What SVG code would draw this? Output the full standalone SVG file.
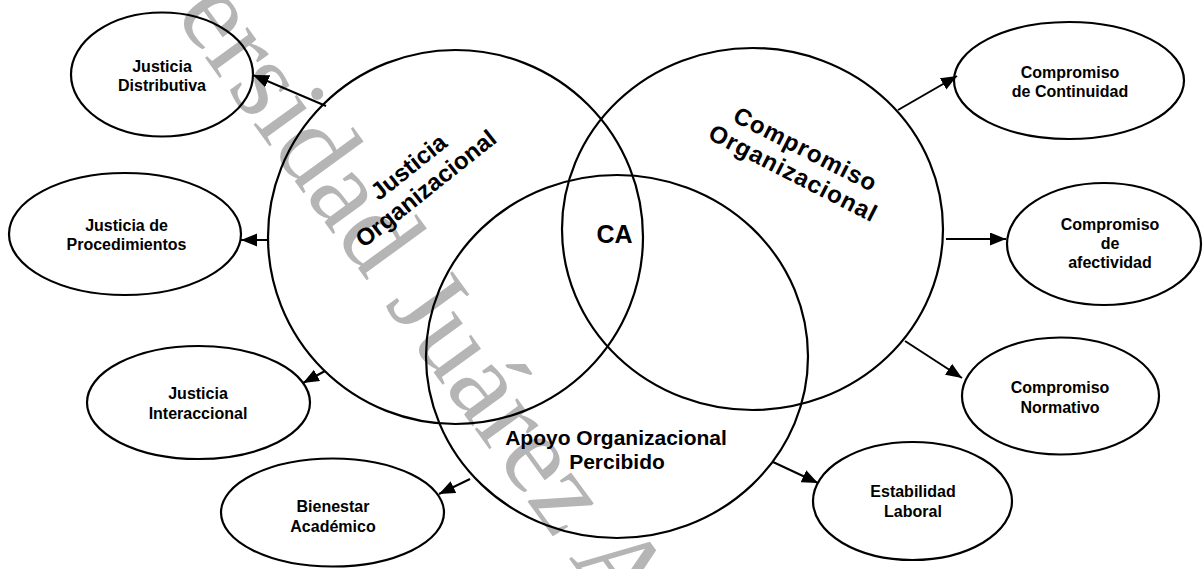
<svg xmlns="http://www.w3.org/2000/svg" width="1203" height="569" viewBox="0 0 1203 569">
<style>
.shape{fill:none;stroke:#000;stroke-width:2.2}
.sat{font-family:"Liberation Sans",Arial,sans-serif;font-weight:bold;font-size:16px;fill:#000;text-anchor:middle}
.big{font-family:"Liberation Sans",Arial,sans-serif;font-weight:bold;fill:#000;text-anchor:middle}
.conn line{stroke:#000;stroke-width:2;marker-end:url(#ah)}
.wm{font-family:"Liberation Serif","Times New Roman",serif;font-size:114px;fill:#b5b5b5}
</style>
<defs>
<marker id="ah" markerUnits="userSpaceOnUse" markerWidth="18" markerHeight="14" refX="16" refY="6.5" orient="auto">
<path d="M0,0 L16,6.5 L0,13 Z" fill="#000"/>
</marker>
</defs>
<rect width="1203" height="569" fill="#fff"/>
<text class="wm" transform="translate(174,15) rotate(54)" x="-228" y="0">Universidad Juárez Autónoma de Tabasco</text>

<g id="justicia-organizacional">
<ellipse class="shape" cx="455.5" cy="237" rx="187.5" ry="187"/>
<g transform="translate(417,177.5) rotate(-38.6)">
<text class="big" font-size="24" x="0" y="-5.3">Justicia</text>
<text class="big" font-size="24" x="0" y="22.3">Organizacional</text>
</g>
</g>
<g id="compromiso-organizacional">
<ellipse class="shape" cx="752.5" cy="229" rx="190.5" ry="181"/>
<g transform="translate(799.5,161) rotate(27)">
<text class="big" font-size="24" x="0" y="-5" letter-spacing="1">Compromiso</text>
<text class="big" font-size="24" x="0" y="22" letter-spacing="1">Organizacional</text>
</g>
</g>
<g id="apoyo-organizacional">
<ellipse class="shape" cx="617" cy="356.5" rx="191" ry="181.5"/>
<text class="big" font-size="21" x="616" y="445">Apoyo Organizacional</text>
<text class="big" font-size="21" x="617" y="469">Percibido</text>
</g>
<g id="ca">
<text class="big" font-size="25" x="614.5" y="243">CA</text>
</g>

<g id="justicia-distributiva">
<ellipse class="shape" cx="162" cy="74.5" rx="91" ry="62"/>
<text class="sat" x="162" y="71.5">Justicia</text>
<text class="sat" x="162" y="90.5">Distributiva</text>
</g>
<g id="justicia-procedimientos">
<ellipse class="shape" cx="125" cy="234" rx="116" ry="61"/>
<text class="sat" x="126.5" y="231">Justicia de</text>
<text class="sat" x="126.5" y="250">Procedimientos</text>
</g>
<g id="justicia-interaccional">
<ellipse class="shape" cx="198.5" cy="402.5" rx="111.5" ry="56.5"/>
<text class="sat" x="198" y="399">Justicia</text>
<text class="sat" x="198" y="419">Interaccional</text>
</g>
<g id="bienestar-academico">
<ellipse class="shape" cx="332.5" cy="512.5" rx="111.5" ry="54"/>
<text class="sat" x="333" y="511.5">Bienestar</text>
<text class="sat" x="333" y="531.5">Académico</text>
</g>
<g id="estabilidad-laboral">
<ellipse class="shape" cx="912.5" cy="501" rx="99.5" ry="59"/>
<text class="sat" x="913" y="497">Estabilidad</text>
<text class="sat" x="913" y="517">Laboral</text>
</g>
<g id="compromiso-normativo">
<ellipse class="shape" cx="1060.5" cy="396" rx="98.5" ry="58.5"/>
<text class="sat" x="1060" y="393">Compromiso</text>
<text class="sat" x="1060" y="413">Normativo</text>
</g>
<g id="compromiso-afectividad">
<ellipse class="shape" cx="1104" cy="244" rx="97" ry="61"/>
<text class="sat" x="1110" y="230">Compromiso</text>
<text class="sat" x="1110" y="249">de</text>
<text class="sat" x="1110" y="268">afectividad</text>
</g>
<g id="compromiso-continuidad">
<ellipse class="shape" cx="1069" cy="80.5" rx="115" ry="58.5"/>
<text class="sat" x="1070" y="77.5">Compromiso</text>
<text class="sat" x="1070" y="97">de Continuidad</text>
</g>

<g id="connectors" class="conn">
<line x1="326" y1="106" x2="253" y2="75"/>
<line x1="268" y1="240" x2="241" y2="240"/>
<line x1="325" y1="371" x2="303" y2="383"/>
<line x1="470" y1="479" x2="439" y2="494"/>
<line x1="773" y1="462" x2="818" y2="483"/>
<line x1="905" y1="341" x2="962" y2="378"/>
<line x1="946" y1="239" x2="1006" y2="239"/>
<line x1="898" y1="110" x2="957" y2="76"/>
</g>
</svg>
